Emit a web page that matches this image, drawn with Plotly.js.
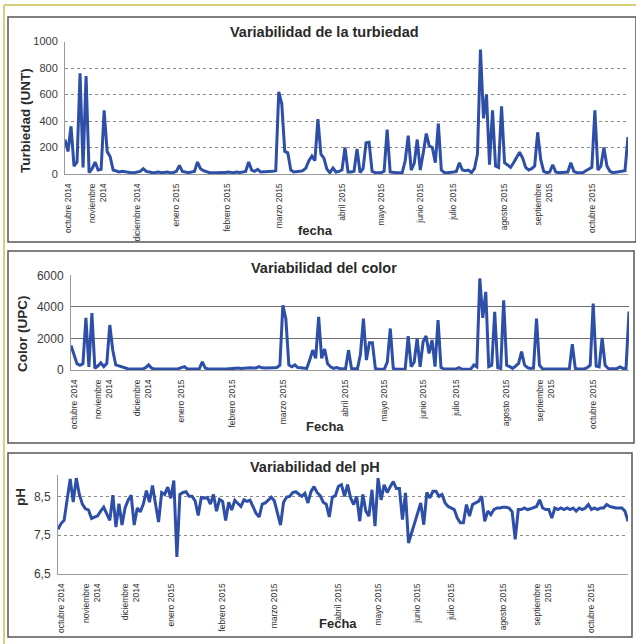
<!DOCTYPE html>
<html>
<head>
<meta charset="utf-8">
<script src="https://cdn.plot.ly/plotly-3.0.1.min.js"></script>
<style>html,body{margin:0;padding:0;background:#fff;}#chart{width:636px;height:644px;}</style>
</head>
<body>
<div id="chart"></div>
<script>
// Turbiedad (UNT), one value per sample
const turbiedad = [
  260,170,360,60,90,760,50,740,10,40,
  90,30,35,480,170,130,30,20,15,20,
  15,10,10,10,15,20,40,20,15,10,
  12,15,10,12,15,10,12,20,65,20,
  12,10,15,20,90,40,25,15,10,10,
  8,10,12,10,15,12,10,15,12,15,
  20,90,30,20,35,15,15,20,15,20,
  25,620,530,170,160,30,15,15,20,25,
  45,100,135,100,415,150,120,35,10,45,
  15,20,30,200,15,15,20,190,10,40,
  235,240,20,10,10,10,20,335,15,10,
  10,10,10,100,290,30,80,260,30,160,
  305,210,200,85,380,30,10,10,10,15,
  20,85,30,25,30,10,40,150,940,420,
  600,70,480,60,50,510,85,70,50,85,
  120,165,120,50,30,40,60,315,110,20,
  10,15,70,15,10,10,10,15,85,20,
  10,10,10,25,35,50,480,30,60,200,
  60,20,10,15,15,20,25,280
];
// Color (UPC)
const color = [
  1550,900,400,300,400,3300,200,3600,100,250,
  460,210,420,2850,1250,320,250,200,105,80,
  60,60,80,60,60,150,320,120,70,70,
  60,50,60,60,70,60,80,150,210,60,
  50,60,70,80,520,120,60,60,50,60,
  70,60,60,80,100,100,120,100,120,150,
  140,120,130,220,140,130,150,140,150,160,
  300,4100,3250,320,210,320,150,140,120,100,
  630,1260,740,3370,740,1330,400,210,100,150,
  100,80,60,1260,100,80,80,1000,3260,630,
  1730,1730,100,50,50,60,500,2630,100,50,
  50,50,60,2150,210,500,2000,200,1790,2150,
  1050,1900,210,3160,150,60,50,50,50,60,
  150,60,50,60,60,315,200,5800,3300,4950,
  210,300,3680,150,100,4420,300,210,100,250,
  420,1160,315,150,100,120,3260,300,80,60,
  60,50,60,60,50,60,60,70,1640,100,
  60,60,70,150,300,4210,250,200,2040,300,
  100,80,80,100,200,100,100,3700
];
// pH
const ph = [
  7.65,7.80,7.88,8.45,8.95,8.35,8.97,8.55,8.30,8.18,
  8.15,7.93,7.97,8.00,8.12,8.22,8.05,7.88,8.53,7.71,
  8.31,7.76,8.20,8.40,8.53,7.76,8.20,8.10,8.30,8.65,
  8.35,8.78,8.30,7.84,8.60,8.55,8.74,8.45,8.91,6.94,
  8.55,8.60,8.62,8.50,8.50,8.38,8.01,8.47,8.45,8.47,
  8.30,8.55,8.12,8.42,8.37,7.88,8.35,8.15,8.40,8.33,
  8.24,8.41,8.37,8.40,8.24,8.06,7.97,8.30,8.33,8.40,
  8.48,8.38,8.10,7.76,8.35,8.48,8.50,8.60,8.62,8.56,
  8.50,8.58,8.33,8.62,8.75,8.60,8.52,8.35,8.30,7.97,
  8.48,8.52,8.76,8.80,8.50,8.80,8.46,8.29,8.50,7.86,
  8.55,8.12,7.99,8.67,7.73,8.97,8.41,8.80,8.60,8.75,
  8.88,8.70,8.70,7.90,8.59,7.30,7.56,7.86,8.12,8.33,
  7.77,8.60,8.46,8.63,8.63,8.50,8.55,8.33,8.24,8.20,
  8.16,7.94,7.82,7.82,8.29,7.99,8.29,8.33,8.37,8.50,
  7.86,8.12,8.03,8.16,8.20,8.20,8.22,8.22,8.20,8.10,
  7.39,8.16,8.16,8.20,8.16,8.18,8.20,8.24,8.41,8.20,
  8.16,8.16,7.94,8.20,8.16,8.20,8.16,8.20,8.16,8.20,
  8.12,8.20,8.16,8.20,8.29,8.16,8.20,8.16,8.20,8.20,
  8.29,8.24,8.22,8.20,8.20,8.20,8.12,7.86
];
// Sample index at which each month label sits
const monthTickIdx = [1, 11, 24, 37, 54, 71, 92, 105, 118, 129, 146, 159, 175];
const monthLabels1 = ["octubre 2014","noviembre<br>2014","diciembre 2014","enero 2015","febrero 2015","marzo 2015","abril 2015","mayo 2015","junio 2015","julio 2015","agosto 2015","septiembre<br>2015","octubre 2015"];
const monthLabels2 = ["octubre 2014","noviembre<br>2014","diciembre<br>2014","enero 2015","febrero 2015","marzo 2015","abril 2015","mayo 2015","junio 2015","julio 2015","agosto 2015","septiembre<br>2015","octubre 2015"];
const monthLabels3 = monthLabels2;
const phTicks = [6.5, 7.5, 8.5];
const phTickText = ["6,5", "7,5", "8,5"];

const W = 636, H = 644;
const PX = x => x / W, PY = y => 1 - y / H;
const idx = turbiedad.map((_, i) => i);

const lineStyle = {color: '#2d4fa8', width: 3};
const traces = [
  {x: idx, y: turbiedad, xaxis: 'x', yaxis: 'y', type: 'scatter', mode: 'lines', line: lineStyle, hoverinfo: 'skip'},
  {x: idx, y: color, xaxis: 'x2', yaxis: 'y2', type: 'scatter', mode: 'lines', line: lineStyle, hoverinfo: 'skip'},
  {x: idx, y: ph, xaxis: 'x3', yaxis: 'y3', type: 'scatter', mode: 'lines', line: lineStyle, hoverinfo: 'skip'}
];

const NARROW = '"Liberation Sans Narrow", "Arial Narrow", "Liberation Sans", sans-serif';
const SANS = '"Liberation Sans", Arial, sans-serif';
const xBase = {
  range: [0, turbiedad.length - 1], tickmode: 'array', tickvals: monthTickIdx,
  tickangle: -90, tickfont: {family: NARROW, size: 8.5, color: '#333'},
  showgrid: false, zeroline: false, showline: true, linecolor: '#9a9a9a', linewidth: 1,
  ticks: '', ticklabelstandoff: 5, fixedrange: true
};
const yBase = {
  zeroline: false, showline: true, linecolor: '#9a9a9a', linewidth: 1, ticks: '',
  tickfont: {family: SANS, size: 11, color: '#3a3a3a'}, fixedrange: true, ticklabelstandoff: 4
};

const layout = {
  width: W, height: H, margin: {l: 0, r: 0, t: 0, b: 0},
  paper_bgcolor: '#fff', plot_bgcolor: '#fff', showlegend: false,
  xaxis: Object.assign({}, xBase, {domain: [PX(65), PX(628)], anchor: 'y', ticktext: monthLabels1}),
  yaxis: Object.assign({}, yBase, {domain: [PY(174), PY(41.5)], anchor: 'x', range: [0, 1000], dtick: 200,
    gridcolor: '#8a8a8a', griddash: 'dot', gridwidth: 1}),
  xaxis2: Object.assign({}, xBase, {domain: [PX(71), PX(629)], anchor: 'y2', ticktext: monthLabels2}),
  yaxis2: Object.assign({}, yBase, {domain: [PY(370), PY(275.3)], anchor: 'x2', range: [0, 6000], dtick: 2000,
    gridcolor: '#707070', gridwidth: 1, tickfont: {family: SANS, size: 12, color: '#3a3a3a'}}),
  xaxis3: Object.assign({}, xBase, {domain: [PX(58), PX(628)], anchor: 'y3', ticktext: monthLabels3}),
  yaxis3: Object.assign({}, yBase, {domain: [PY(574), PY(475)], anchor: 'x3', range: [6.5, 9.05],
    tickmode: 'array', tickvals: phTicks, ticktext: phTickText,
    gridcolor: '#8a8a8a', griddash: 'dot', gridwidth: 1, tickfont: {family: SANS, size: 12, color: '#3a3a3a'}}),
  shapes: [
    // outer scan border
    {type: 'line', xref: 'paper', yref: 'paper', x0: PX(4), x1: PX(636), y0: PY(5), y1: PY(5), line: {color: '#d8cf7a', width: 2}},
    {type: 'line', xref: 'paper', yref: 'paper', x0: PX(4), x1: PX(4), y0: PY(5), y1: PY(644), line: {color: '#d8cf7a', width: 2}},
    // panel frames
    {type: 'rect', xref: 'paper', yref: 'paper', x0: PX(8), x1: PX(636), y0: PY(242), y1: PY(17), line: {color: '#555', width: 1.5}},
    {type: 'rect', xref: 'paper', yref: 'paper', x0: PX(8), x1: PX(634), y0: PY(443), y1: PY(251), line: {color: '#555', width: 1.5}},
    {type: 'rect', xref: 'paper', yref: 'paper', x0: PX(8), x1: PX(632), y0: PY(637), y1: PY(453), line: {color: '#555', width: 1.5}}
  ],
  annotations: [
    {text: 'Variabilidad de la turbiedad', x: PX(324), y: PY(32)},
    {text: 'Variabilidad del color', x: PX(324), y: PY(268)},
    {text: 'Variabilidad del pH', x: PX(315), y: PY(467)},
    {text: 'fecha', x: PX(315), y: PY(230), size: 13},
    {text: 'Fecha', x: PX(325), y: PY(427), size: 13},
    {text: 'Fecha', x: PX(338), y: PY(623), size: 13},
    {text: 'Turbiedad (UNT)', x: PX(25), y: PY(121), size: 13.5, angle: -90},
    {text: 'Color (UPC)', x: PX(22), y: PY(334), size: 13.5, angle: -90},
    {text: 'pH', x: PX(20), y: PY(497), size: 13.5, angle: -90}
  ].map(a => ({
    text: '<b>' + a.text + '</b>', x: a.x, y: a.y, xref: 'paper', yref: 'paper',
    xanchor: 'center', yanchor: 'middle', showarrow: false, textangle: a.angle || 0,
    font: {family: SANS, size: a.size || 14.5, color: '#2a2a2a'}
  }))
};

Plotly.newPlot('chart', traces, layout, {staticPlot: true, displayModeBar: false});
</script>
</body>
</html>
